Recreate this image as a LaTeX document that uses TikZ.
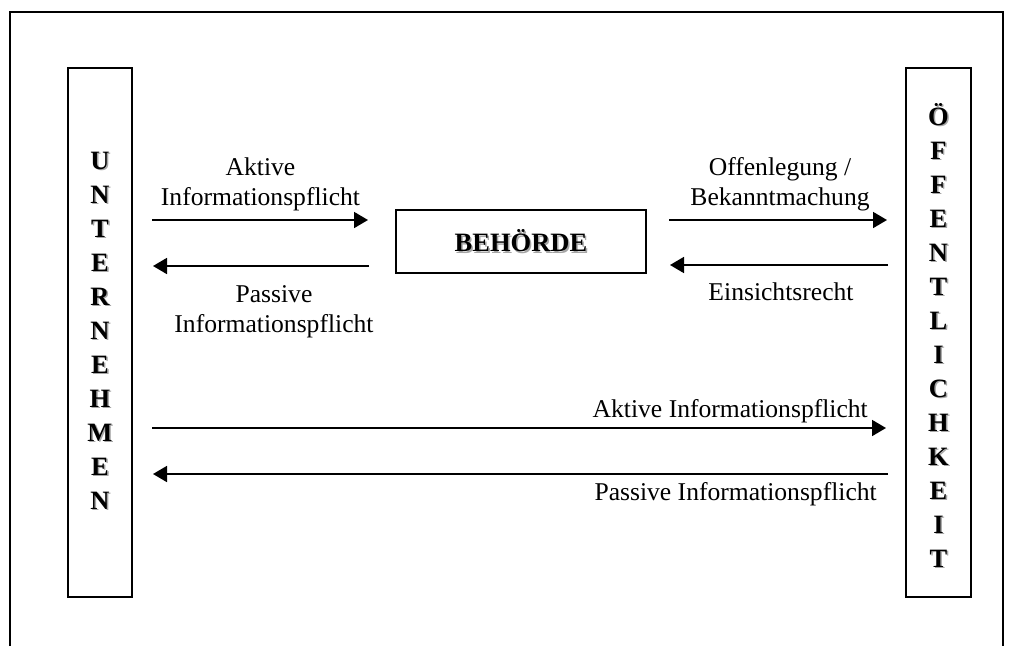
\documentclass[tikz,border=0pt]{standalone}
\usepackage{fontspec}
\setmainfont{Liberation Serif}
\usetikzlibrary{arrows.meta}
% bold caption with a soft grey drop shadow behind it
\newcommand\shadowed[1]{\makebox[0pt][l]{\hspace{1.5pt}\raisebox{-1.5pt}{\color{black!35}#1}}#1}

\begin{document}
\begin{tikzpicture}[x=1pt,y=-1pt,
  frame/.style={draw, line width=1.8pt, inner sep=0pt},
  arr/.style={line width=1.8pt, -{Triangle[length=14pt,width=16pt]}},
  lbl/.style={font=\fontsize{25.6}{30}\selectfont, inner sep=0pt, align=center},
  boldcap/.style={font=\fontsize{26.5}{30}\selectfont\bfseries, inner sep=0pt}]
\useasboundingbox (0,0) rectangle (1014,646);

% outer frame (open at the bottom)
\draw[line width=1.8pt] (10,646) -- (10,12) -- (1003,12) -- (1003,646);

% the three parties
\node[frame, minimum width=64pt, minimum height=529pt] (unt) at (100,332.5) {};
\node[frame, minimum width=65pt, minimum height=529pt] (oef) at (938.5,332.5) {};
\node[frame, boldcap, minimum width=250pt, minimum height=63pt] (beh) at (521,241.5) {\shadowed{BEHÖRDE}};

% vertical lettering
\foreach \c [count=\i from 0] in {U,N,T,E,R,N,E,H,M,E,N}
  \node[boldcap, anchor=base] (u\i) at (100,169+34*\i) {\shadowed{\c}};
\foreach \c [count=\i from 0] in {Ö,F,F,E,N,T,L,I,C,H,K,E,I,T}
  \node[boldcap, anchor=base] (o\i) at (938.5,125+34*\i) {\shadowed{\c}};

% arrow end points
\coordinate (a1s) at (152,220); \coordinate (a1e) at (368,220);
\coordinate (a2s) at (369,266); \coordinate (a2e) at (153,266);
\coordinate (a3s) at (669,220); \coordinate (a3e) at (887,220);
\coordinate (a4s) at (888,265); \coordinate (a4e) at (670,265);
\coordinate (a5s) at (152,428); \coordinate (a5e) at (886,428);
\coordinate (a6s) at (888,474); \coordinate (a6e) at (153,474);

\draw[arr] (a1s) -- (a1e);
\draw[arr] (a2s) -- (a2e);
\draw[arr] (a3s) -- (a3e);
\draw[arr] (a4s) -- (a4e);
\draw[arr] (a5s) -- (a5e);
\draw[arr] (a6s) -- (a6e);

% arrow labels (base anchor sits on the last line)
\node[lbl, anchor=base] (l1) at (260.5,205) {Aktive\\Informationspflicht};
\node[lbl, anchor=base] (l2) at (274,332) {Passive\\Informationspflicht};
\node[lbl, anchor=base] (l3) at (780,205) {Offenlegung /\\Bekanntmachung};
\node[lbl, anchor=base] (l4) at (781,300) {Einsichtsrecht};
\node[lbl, anchor=base east] (l5) at (868,417) {Aktive Informationspflicht};
\node[lbl, anchor=base east] (l6) at (877,500) {Passive Informationspflicht};
\end{tikzpicture}
\end{document}
